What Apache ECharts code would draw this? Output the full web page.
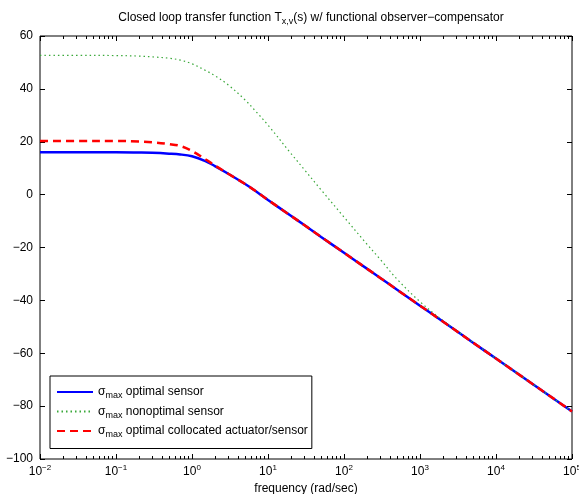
<!DOCTYPE html>
<html>
<head>
<meta charset="utf-8">
<script src="https://cdn.jsdelivr.net/npm/echarts@6/dist/echarts.min.js"></script>
<style>
html,body{margin:0;padding:0;background:#fff;}
#main{width:579px;height:494px;}
</style>
</head>
<body>
<div id="main"></div>
<script>
// frequency grid (rad/sec)
var freq = [0.01, 0.03, 0.1, 0.2, 0.3, 0.5, 0.7, 1, 1.5, 2, 3, 5, 7, 10, 20, 30, 50, 100, 200, 300, 500, 1000, 2000, 5000, 10000, 100000];
var optimalSensor = [16.0, 16.0, 16.0, 15.9, 15.8, 15.5, 15.2, 14.5, 12.7, 10.8, 7.9, 4.0, 1.2, -2.0, -8.0, -11.5, -16.0, -22.0, -28.0, -31.5, -36.0, -42.0, -48.0, -56.0, -62.0, -82.0];
var nonoptimalSensor = [52.7, 52.7, 52.6, 52.4, 52.1, 51.6, 50.9, 49.5, 47.0, 45.0, 41.5, 35.8, 31.3, 26.3, 15.6, 9.5, 1.8, -8.5, -18.7, -24.5, -32.0, -40.5, -47.6, -55.9, -62.0, -82.0];
var collocated = [20.3, 20.3, 20.3, 20.1, 19.8, 19.1, 18.4, 16.5, 13.4, 11.0, 7.9, 4.0, 1.2, -2.0, -8.0, -11.5, -16.0, -22.0, -28.0, -31.5, -36.0, -42.0, -48.0, -56.0, -62.0, -82.0];

var seriesNames = ['optimal sensor', 'nonoptimal sensor', 'optimal collocated actuator/sensor'];
var decadeTicks = [0.01, 0.1, 1, 10, 100, 1000, 10000, 100000];

var minorTicks = [];
for (var d = 0; d < decadeTicks.length - 1; d++) {
    for (var m = 2; m <= 9; m++) {
        minorTicks.push(decadeTicks[d] * m);
    }
}

var FONT = 'Liberation Sans, Arial, Helvetica, sans-serif';

var pairs = function (ys) {
    return freq.map(function (f, i) { return [f, ys[i]]; });
};

var supRich = {
    b: {fontSize: 12, fontFamily: FONT, color: '#000'},
    e: {fontSize: 8, fontFamily: FONT, color: '#000', padding: [0, 0, 7, 0]}
};
var subRich = {
    t: {fontSize: 12, fontFamily: FONT, color: '#000'},
    s: {fontSize: 9, fontFamily: FONT, color: '#000', padding: [8, 0, 0, 0]}
};
var titleRich = {
    t: {fontSize: 12, fontFamily: FONT, color: '#000', fontWeight: 'normal'},
    s: {fontSize: 9, fontFamily: FONT, color: '#000', fontWeight: 'normal', padding: [8, 0, 0, 0]}
};

var baseX = function (pos, extra) {
    return Object.assign({
        type: 'log', logBase: 10, min: 0.01, max: 100000, position: pos, offset: 0,
        splitLine: {show: false},
        axisLine: {show: false, onZero: false},
        axisLabel: {show: false}
    }, extra);
};

var mainEchart = echarts.init(document.getElementById('main'));
mainEchart.setOption({
    animation: false,
    backgroundColor: '#fff',
    title: {
        text: '{t|Closed loop transfer function T}{s|x,v}{t|(s) w/ functional observer\u2212compensator}',
        left: 306, top: 4, textAlign: 'center',
        textStyle: {fontWeight: 'normal', rich: titleRich}
    },
    grid: {
        left: 40, right: 7, top: 36, bottom: 35, outerBoundsMode: 'none',
        show: true, borderColor: '#000', borderWidth: 1, backgroundColor: 'transparent'
    },
    legend: {
        orient: 'vertical', left: 50, top: 376,
        backgroundColor: '#fff',
        borderColor: '#000', borderWidth: 1,
        padding: [10, 4, 9, 6],
        itemWidth: 36, itemHeight: 12, itemGap: 5,
        itemStyle: {opacity: 0},
        data: seriesNames,
        formatter: function (name) {
            return '{t|\u03c3}{s|max}{t| ' + name + '}';
        },
        textStyle: {rich: subRich}
    },
    xAxis: [
        baseX('bottom', {
            name: 'frequency (rad/sec)', nameLocation: 'middle', nameGap: 22,
            nameTextStyle: {fontSize: 12, fontFamily: FONT, color: '#000'},
            axisTick: {show: true, inside: true, length: 5, lineStyle: {color: '#000'}},
            axisLabel: {
                show: true, margin: 5,
                formatter: function (v) {
                    var e = Math.round(Math.log10(v));
                    return '{b|10}{e|' + String(e).replace('-', '\u2212') + '}';
                },
                rich: supRich
            }
        }),
        baseX('top', {
            axisTick: {show: true, inside: true, length: 5, lineStyle: {color: '#000'}}
        }),
        baseX('bottom', {
            axisTick: {show: true, inside: true, length: 3, customValues: minorTicks, lineStyle: {color: '#000'}}
        }),
        baseX('top', {
            axisTick: {show: true, inside: true, length: 3, customValues: minorTicks, lineStyle: {color: '#000'}}
        })
    ],
    yAxis: [
        {
            type: 'value', min: -100, max: 60, interval: 20, position: 'left',
            splitLine: {show: false},
            axisLine: {show: false, onZero: false},
            axisTick: {show: true, inside: true, length: 5, lineStyle: {color: '#000'}},
            axisLabel: {
                fontSize: 12, fontFamily: FONT, color: '#000', margin: 7,
                formatter: function (v) { return String(v).replace('-', '\u2212'); }
            }
        },
        {
            type: 'value', min: -100, max: 60, interval: 20, position: 'right',
            splitLine: {show: false},
            axisLine: {show: false, onZero: false},
            axisTick: {show: true, inside: true, length: 5, lineStyle: {color: '#000'}},
            axisLabel: {show: false}
        }
    ],
    series: [
        {
            name: seriesNames[0], type: 'line', data: pairs(optimalSensor),
            showSymbol: false, symbol: 'none', smooth: 0.35,
            lineStyle: {color: '#0000ff', width: 2.5, type: 'solid'},
            itemStyle: {color: '#0000ff'}
        },
        {
            name: seriesNames[1], type: 'line', data: pairs(nonoptimalSensor),
            showSymbol: false, symbol: 'none', smooth: 0.35,
            lineStyle: {color: '#3aa83a', width: 1.2, type: [1.5, 3]},
            itemStyle: {color: '#3aa83a'}
        },
        {
            name: seriesNames[2], type: 'line', data: pairs(collocated),
            showSymbol: false, symbol: 'none', smooth: 0.35,
            lineStyle: {color: '#ff0000', width: 2.5, type: [8, 5]},
            itemStyle: {color: '#ff0000'}
        }
    ]
});
</script>
</body>
</html>
